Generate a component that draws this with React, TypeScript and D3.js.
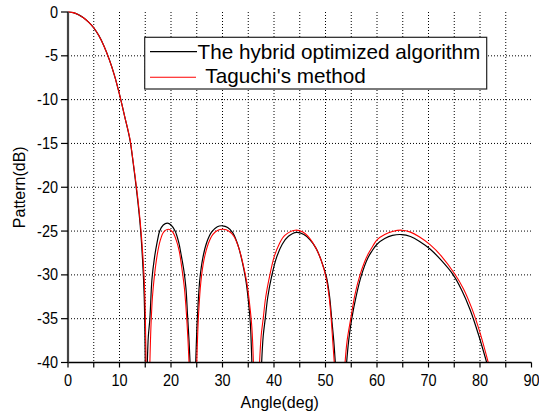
import React from "react";
import * as d3 from "d3";

// angle (deg) / pattern (dB) pairs; null = below -40 dB (gap)
const hybridAngle = [
  0, 1, 2, 3, 4, 5, 6, 7, 8, 9, 10, 11, 12, 12.5, 13, 13.5, 14, 14.5, 14.8, 15.0,
  15.2,
  15.4, 15.6, 15.9, 16.3, 16.8, 17.3, 17.8, 18.5, 19.3, 20.0, 20.8, 21.5, 22.0, 22.5, 22.9, 23.2, 23.5, 23.7,
  24.2,
  24.8, 25.0, 25.2, 25.6, 26.2, 27.0, 27.9, 29.0, 30.0, 31.0, 32.0, 33.0, 33.8, 34.5, 35.0, 35.4, 35.7,
  36.6,
  37.6, 37.9, 38.3, 38.8, 39.6, 40.5, 41.6, 42.8, 44.4, 45.8, 47.0, 48.2, 49.2, 50.2, 50.8, 51.2, 51.6, 51.9,
  53.0,
  54.1, 54.5, 55.1, 56.0, 57.0, 58.2, 59.0, 60.0, 61.5, 63.0, 64.8, 66.5, 68.2, 70.3, 72.5, 74.8, 76.5, 78.1, 79.7, 81.3,
];
const hybridDb: (number | null)[] = [
  0, -0.07, -0.3, -0.65, -1.15, -1.8, -2.7, -3.9, -5.4, -7.2, -9.4, -11.9, -14.5, -16.5, -18.8, -21.3, -24.2, -28.5, -32.5, -40,
  null,
  -40, -37, -35, -30.5, -28, -26.3, -25.0, -24.3, -24.1, -24.3, -25.0, -26.3, -27.8, -29.5, -31.5, -34.5, -37.5, -40,
  null,
  -40, -36.5, -34, -30.5, -28, -26.2, -25.1, -24.5, -24.4, -24.6, -25.2, -26.6, -28.4, -30.5, -32.8, -35.5, -40,
  null,
  -40, -37, -35, -32.5, -30, -28, -26.5, -25.6, -25.15, -25.4, -26.0, -27.0, -28.4, -30.3, -32.5, -35, -37.5, -40,
  null,
  -40, -37.5, -35, -32.3, -30, -28.1, -27.3, -26.5, -25.85, -25.5, -25.4, -25.62, -26.15, -27.05, -28.35, -30.0, -31.8, -34.0, -36.8, -40,
];

const taguchiAngle = [
  0, 1, 2, 3, 4, 5, 6, 7, 8, 9, 10, 11, 12, 12.5, 13, 13.5, 14, 14.5, 14.9, 15.15,
  15.5,
  15.9, 16.1, 16.4, 16.8, 17.3, 17.9, 18.6, 19.5, 20.3, 21.0, 21.6, 22.1, 22.6, 23.0, 23.3, 23.5,
  24.3,
  25.0, 25.2, 25.4, 25.8, 26.4, 27.2, 28.1, 29.1, 30.2, 31.2, 32.2, 33.2, 34.0, 34.7, 35.2, 35.7, 36.0,
  36.6,
  37.2, 37.5, 37.9, 38.4, 39.2, 40.0, 41.0, 42.1, 44.1, 45.6, 46.9, 48.1, 49.2, 50.1, 50.7, 51.1, 51.4, 51.7,
  52.8,
  53.8, 54.2, 54.9, 55.7, 56.7, 57.6, 58.3, 59.2, 60.0, 61.5, 63.0, 64.8, 66.5, 68.2, 70.3, 72.5, 75.1, 76.8, 78.4, 80.0, 81.6,
];
const taguchiDb: (number | null)[] = [
  0, -0.07, -0.3, -0.65, -1.15, -1.8, -2.7, -3.9, -5.4, -7.2, -9.4, -11.9, -14.4, -16.4, -18.6, -21.0, -23.8, -27.5, -32, -40,
  null,
  -40, -36, -32.5, -30, -27.8, -26.1, -25.1, -24.8, -25.1, -26.0, -27.3, -29.2, -31.5, -34.5, -37.5, -40,
  null,
  -40, -36.5, -34, -30.8, -28.3, -26.5, -25.4, -24.9, -24.8, -25.0, -25.6, -27.0, -28.8, -30.8, -33.0, -36, -40,
  null,
  -40, -37, -35, -32.5, -30, -28, -26.5, -25.5, -24.9, -25.1, -25.8, -26.9, -28.4, -30.3, -32.5, -35, -37.5, -40,
  null,
  -40, -37.5, -35, -32.3, -30, -28.5, -27.6, -26.7, -26.0, -25.4, -25.05, -24.9, -25.12, -25.65, -26.55, -27.85, -29.9, -31.6, -33.8, -36.6, -40,
];

const xTicks = [0, 10, 20, 30, 40, 50, 60, 70, 80, 90];
const xMinor = [5, 15, 25, 35, 45, 55, 65, 75, 85];
const yTicks = [0, -5, -10, -15, -20, -25, -30, -35, -40];
const legendLabels = ["The hybrid optimized algorithm", " Taguchi's method"];

const W = 539;
const H = 415;
const font = "'Liberation Sans', Arial, sans-serif";

export default function App() {
  const x = d3.scaleLinear().domain([0, 90]).range([68, 531.5]);
  const y = d3.scaleLinear().domain([-40, 0]).range([362.5, 12]);

  const line = d3
    .line<[number, number | null]>()
    .defined((d) => d[1] != null)
    .x((d) => x(d[0]))
    .y((d) => y(d[1] as number))
    .curve(d3.curveCatmullRom.alpha(0.5));

  const hybrid = hybridAngle.map((a, i) => [a, hybridDb[i]] as [number, number | null]);
  const taguchi = taguchiAngle.map((a, i) => [a, taguchiDb[i]] as [number, number | null]);

  const x0 = x(0), x1 = x(90), y0 = y(-40), y1 = y(0);

  return (
    <svg
      width={W}
      height={H}
      style={{ position: "absolute", left: 0, top: 0, background: "#fff" }}
      fontFamily={font}
    >
      <defs>
        <clipPath id="plot">
          <rect x={x0} y={y1 - 2} width={x1 - x0} height={y0 - y1 + 2} />
        </clipPath>
      </defs>

      {/* grid */}
      {[...xTicks, ...xMinor]
        .filter((t) => t > 0 && t < 90)
        .map((t) => (
          <line key={"gx" + t} x1={x(t)} x2={x(t)} y1={y1} y2={y0}
            stroke="#000" strokeWidth={1} strokeDasharray="1,2" />
        ))}
      {yTicks
        .filter((t) => t < 0 && t > -40)
        .map((t) => (
          <line key={"gy" + t} x1={x0} x2={x1} y1={y(t)} y2={y(t)}
            stroke="#000" strokeWidth={1} strokeDasharray="1,2" />
        ))}

      {/* curves */}
      <g clipPath="url(#plot)" fill="none">
        <path d={line(hybrid) || ""} stroke="#000" strokeWidth={1.2} />
        <path d={line(taguchi) || ""} stroke="#ff0000" strokeWidth={1.1} />
      </g>

      {/* axes */}
      <line x1={x0} x2={x1} y1={y0} y2={y0} stroke="#000" strokeWidth={1.5} />
      {[...xTicks, ...xMinor].map((t) => (
        <line key={"tx" + t} x1={x(t)} x2={x(t)} y1={y0} y2={y0 + 5} stroke="#000" strokeWidth={1.2} />
      ))}
      {xTicks.map((t) => (
        <text key={"lx" + t} transform={`translate(${x(t)},${y0 + 23}) scale(1,1.12)`}
          textAnchor="middle" fontSize={14.5} fill="#000">{t}</text>
      ))}
      <line x1={x0} x2={x0} y1={y1} y2={y0} stroke="#444" strokeWidth={2.2} />
      {yTicks.map((t) => (
        <g key={"ty" + t}>
          <line x1={x0 - 7} x2={x0} y1={y(t)} y2={y(t)} stroke="#000" strokeWidth={1.2} />
          <text transform={`translate(${x0 - 10},${y(t) + 5.5}) scale(1,1.12)`}
            textAnchor="end" fontSize={14.5} fill="#000">{t}</text>
        </g>
      ))}

      <text x={(x0 + x1) / 2 - 20} y={408} textAnchor="middle" fontSize={16}>Angle(deg)</text>
      <text transform={`translate(25,${(y0 + y1) / 2}) rotate(-90)`} textAnchor="middle" fontSize={16}>
        Pattern(dB)
      </text>

      {/* legend */}
      <rect x={144.7} y={37.3} width={342} height={51.7} fill="#fff" stroke="#222" strokeWidth={1.2} />
      <line x1={150} x2={197} y1={51.7} y2={51.7} stroke="#000" strokeWidth={1.2} />
      <line x1={150} x2={196} y1={77.3} y2={77.3} stroke="#ff0000" strokeWidth={1.1} />
      <text x={197.5} y={58.5} fontSize={20.7} fill="#000" style={{ whiteSpace: "pre" }}>
        {legendLabels[0]}
      </text>
      <text x={200} y={83.3} fontSize={20.7} fill="#000" style={{ whiteSpace: "pre" }}>
        {legendLabels[1]}
      </text>
    </svg>
  );
}
